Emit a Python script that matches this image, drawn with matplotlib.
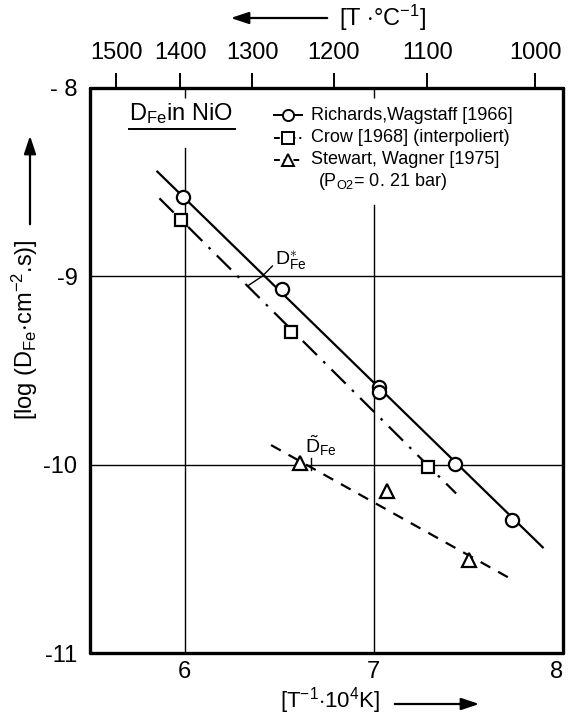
import matplotlib
matplotlib.use("Agg")
import matplotlib.pyplot as plt
import matplotlib.patches as mpatches

plt.rcParams['font.family'] = ['Liberation Sans Narrow', 'Liberation Sans', 'DejaVu Sans']
plt.rcParams['mathtext.fontset'] = 'custom'
plt.rcParams['mathtext.rm'] = 'Liberation Sans'
plt.rcParams['mathtext.it'] = 'Liberation Sans'

# Richards, Wagstaff [1966]
rw_x = [5.99, 6.515, 7.026, 7.026, 7.43, 7.729]
rw_y = [-8.58, -9.069, -9.586, -9.613, -9.998, -10.294]
rw_fit_x = [5.856, 7.893]
rw_fit_y = [-8.444, -10.439]

# Crow [1968] (interpoliert)
cr_x = [5.979, 6.563, 7.286]
cr_y = [-8.701, -9.294, -10.011]
cr_fit_x = [5.867, 7.435]
cr_fit_y = [-8.586, -10.153]

# Stewart, Wagner [1975]
sw_x = [6.608, 7.072, 7.503]
sw_y = [-9.993, -10.138, -10.507]
sw_fit_x = [6.457, 7.72]
sw_fit_y = [-9.896, -10.604]

x_ticks = [6, 7, 8]
y_ticks = [-8, -9, -10, -11]
y_ticklabels = ['- 8', '-9', '-10', '-11']
t_ticks = [1500, 1400, 1300, 1200, 1100, 1000]

W, H = 568, 719
fig = plt.figure(figsize=(W / 100, H / 100), dpi=100)
L, R, T, B = 90, 563, 88, 653
ax = fig.add_axes([L / W, 1 - B / H, (R - L) / W, (B - T) / H])
ax.set_xlim(5.5, 8.0)
ax.set_ylim(-11, -8)

for s in ax.spines.values():
    s.set_linewidth(2.4)
    s.set_capstyle('round')
    s.set_joinstyle('round')

# grid: full horizontal lines, partial vertical lines
for yv in [-9, -10]:
    ax.axhline(yv, color='black', lw=1.0, zorder=1)
ax.plot([6, 6], [-11, -8.32], color='black', lw=1.0, zorder=1)
ax.plot([7, 7], [-11, -8.62], color='black', lw=1.0, zorder=1)

# fit lines
ax.plot(rw_fit_x, rw_fit_y, color='black', lw=1.6, ls='-', zorder=2)
ax.plot(cr_fit_x, cr_fit_y, color='black', lw=1.6, ls=(0, (9, 4, 1.2, 4)), zorder=2)
ax.plot(sw_fit_x, sw_fit_y, color='black', lw=1.6, ls=(0, (5, 4)), zorder=2)

# data points
mk = dict(ls='none', mfc='white', mec='black', mew=1.6, zorder=3)
ax.plot(rw_x, rw_y, marker='o', ms=9.5, **mk)
ax.plot(cr_x, cr_y, marker='s', ms=8, **mk)
ax.plot(sw_x, sw_y, marker='^', ms=9.5, **mk)

# bottom axis: labels below, short inward ticks at the top edge
ax.set_xticks(x_ticks)
ax.set_xticklabels([str(v) for v in x_ticks])
ax.tick_params(axis='x', bottom=False, top=True, labelbottom=True, labeltop=False,
               direction='in', length=7, width=1.0, labelsize=17, pad=6)
ax.set_yticks(y_ticks)
ax.set_yticklabels(y_ticklabels)
ax.tick_params(axis='y', left=False, length=0, labelsize=17, pad=9)
xl = ax.get_xticklabels()
xl[-1].set_horizontalalignment('right')
xl[-1].set_x(8.0)

# temperature axis on top
sec = ax.secondary_xaxis('top', functions=(lambda x: 1e4 / x - 273.15,
                                           lambda t: 1e4 / (t + 273.15)))
sec.set_xticks(t_ticks)
sec.set_xticklabels([str(v) for v in t_ticks])
sec.tick_params(direction='out', length=11, width=1.4, labelsize=17, pad=6)
sec.spines['top'].set_visible(False)

# title with underline
ax.text(0.082, 0.943, r'D$_{\rm Fe}$in NiO', transform=ax.transAxes,
        fontsize=17, ha='left', va='baseline')
ax.plot([0.082, 0.307], [0.927, 0.927], transform=ax.transAxes,
        color='black', lw=1.4, clip_on=False)


def px_ax(px, py):
    return (px - L) / (R - L), 1 - (py - T) / (B - T)


# legend
rows = [
    ('-', 'o', 'Richards,Wagstaff [1966]', 115),
    ((0, (3, 2, 1, 2)), 's', 'Crow [1968] (interpoliert)', 138),
    ((0, (3, 2)), '^', 'Stewart, Wagner [1975]', 160),
]
for ls, m, label, py in rows:
    x0, y0 = px_ax(274, py)
    x1, _ = px_ax(302, py)
    xm, _ = px_ax(288, py)
    ax.plot([x0, x1], [y0, y0], transform=ax.transAxes, color='black',
            lw=1.4, ls=ls, clip_on=False)
    ax.plot([xm], [y0], transform=ax.transAxes, marker=m, ms=8, mfc='white',
            mec='black', mew=1.4, clip_on=False)
    tx, _ = px_ax(311, py)
    ax.text(tx, y0, label, transform=ax.transAxes, fontsize=13,
            ha='left', va='center')
px_, py_ = px_ax(318, 182)
ax.text(px_, py_, r'(P$_{\rm O2}$= 0. 21 bar)', transform=ax.transAxes,
        fontsize=13, ha='left', va='center')

# curve labels with leaders
ax.text(6.48, -8.975, r'D$_{\rm Fe}^{\ast}$', fontsize=14, ha='left', va='bottom')
ax.plot([6.464, 6.412, 6.332], [-8.945, -8.998, -9.052], color='black', lw=1.0)
ax.text(6.635, -9.965, r'$\tilde{\rm D}_{\rm Fe}$', fontsize=14, ha='left', va='bottom')
ax.plot([6.67, 6.67], [-9.965, -10.03], color='black', lw=1.0)


def arrow(p0, p1):
    fig.patches.append(mpatches.FancyArrowPatch(
        (p0[0] / W, 1 - p0[1] / H), (p1[0] / W, 1 - p1[1] / H),
        transform=fig.transFigure,
        arrowstyle='-|>,head_length=0.9,head_width=0.3', color='black',
        lw=1.6, mutation_scale=12))


# axis captions with arrows
fig.text(383 / W, 1 - 18 / H, r'[T $\cdot$°C$^{-1}$]', fontsize=17,
         ha='center', va='center')
arrow((330, 18), (228, 18))

fig.text(330 / W, 1 - 701 / H, r'[T$^{-1}$$\cdot$10$^{4}$K]', fontsize=16,
         ha='center', va='center')
arrow((392, 704), (482, 704))

fig.text(25 / W, 1 - 330 / H, r'[log (D$_{\rm Fe}$$\cdot$cm$^{-2}$.s)]', fontsize=17,
         ha='center', va='center', rotation=90)
arrow((30, 227), (30, 133))

fig.savefig('out.png', dpi=100)
